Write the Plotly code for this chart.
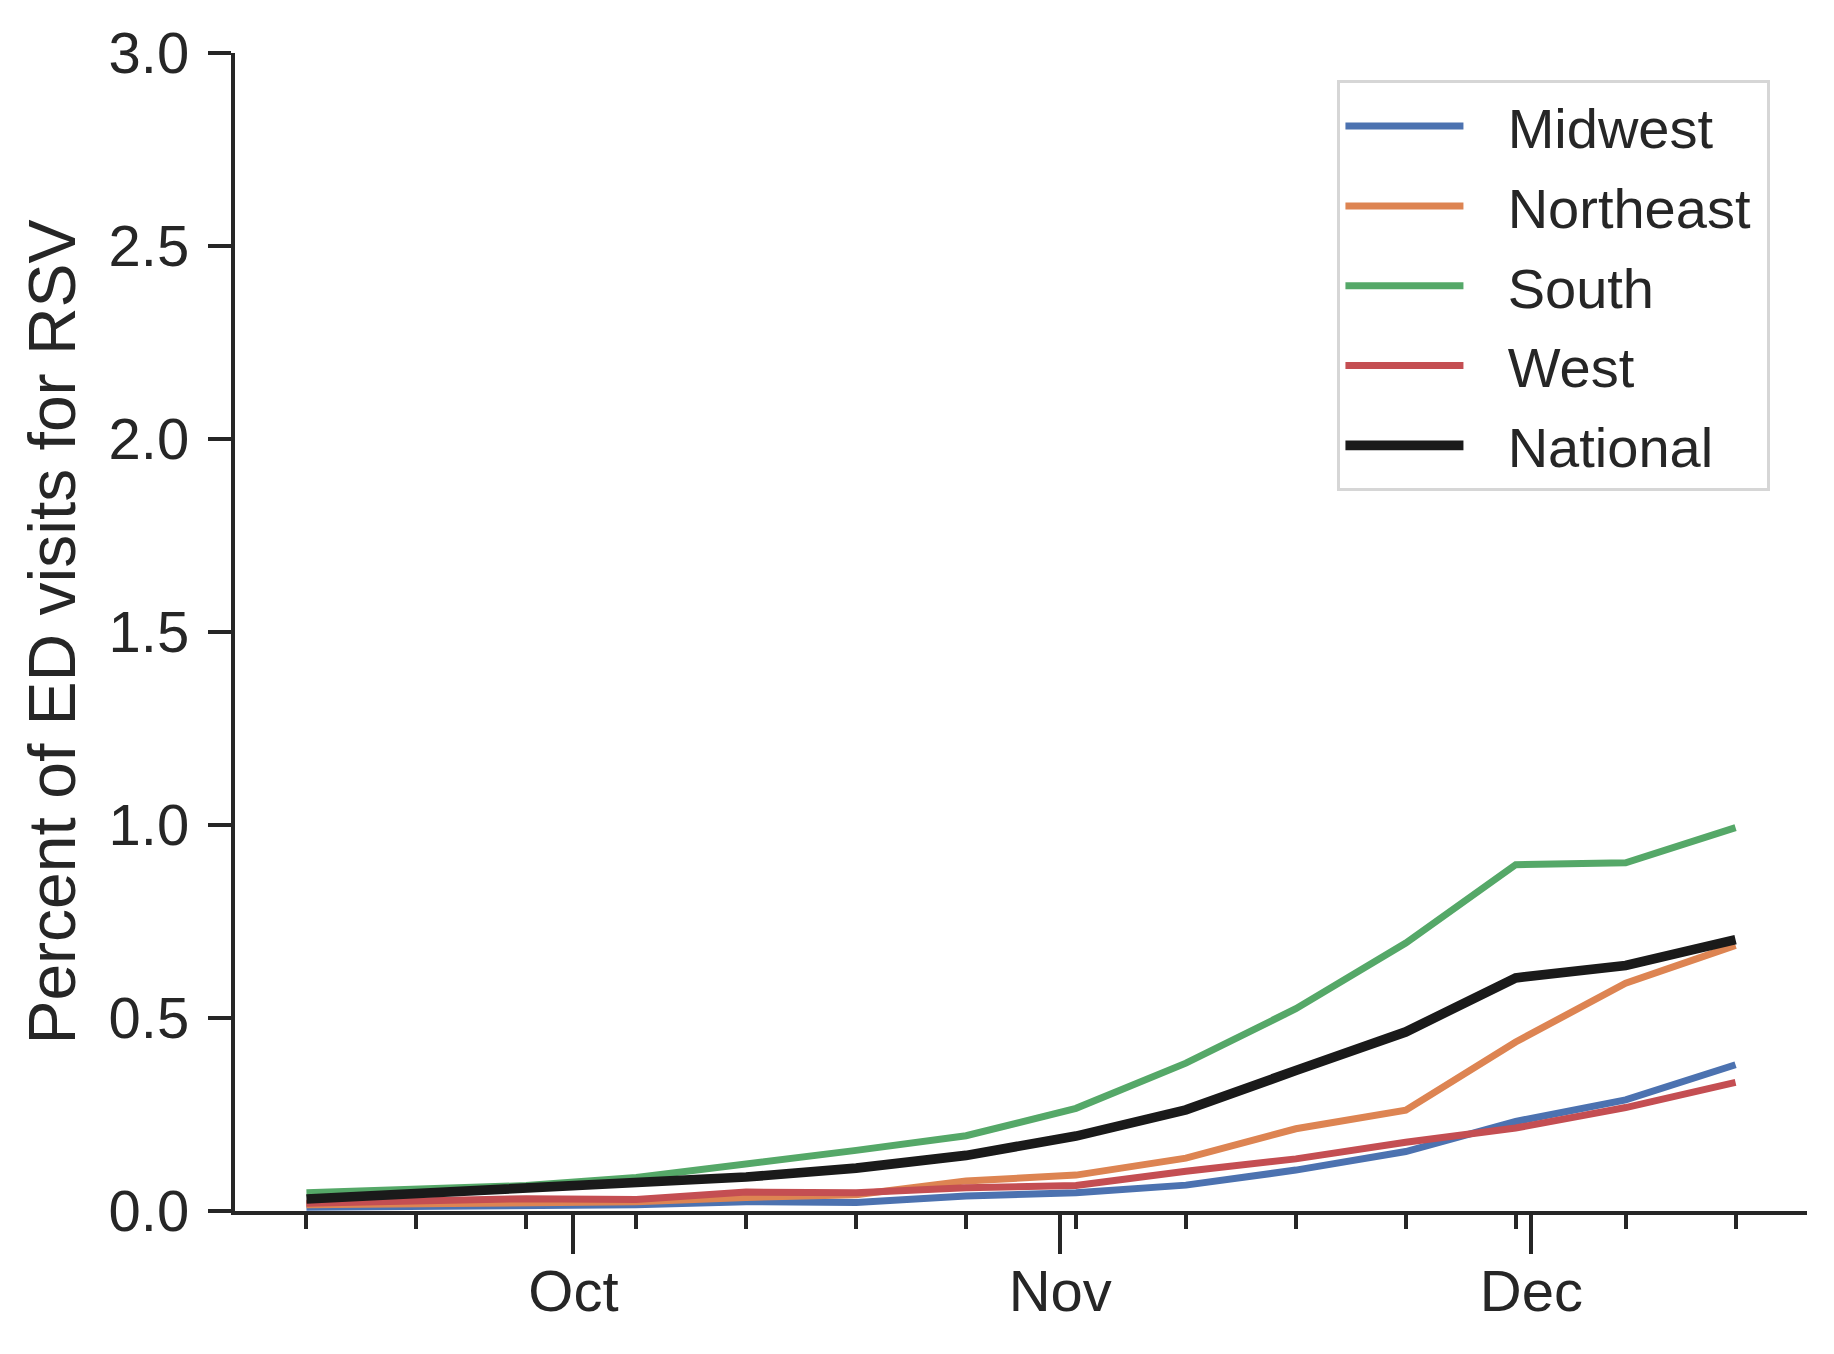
import plotly.graph_objects as go
import pandas as pd

# ---- data ----
week_dates = ["2024-09-14", "2024-09-21", "2024-09-28", "2024-10-05", "2024-10-12",
              "2024-10-19", "2024-10-26", "2024-11-02", "2024-11-09", "2024-11-16",
              "2024-11-23", "2024-11-30", "2024-12-07", "2024-12-14"]
midwest = [0.010, 0.011, 0.014, 0.016, 0.024, 0.022, 0.039, 0.047, 0.067, 0.106, 0.154, 0.232, 0.288, 0.379]
northeast = [0.016, 0.020, 0.024, 0.024, 0.035, 0.042, 0.078, 0.093, 0.137, 0.213, 0.261, 0.438, 0.590, 0.688]
south = [0.047, 0.058, 0.066, 0.087, 0.121, 0.157, 0.195, 0.266, 0.383, 0.524, 0.694, 0.897, 0.902, 0.993]
west = [0.020, 0.028, 0.032, 0.030, 0.049, 0.047, 0.060, 0.066, 0.103, 0.135, 0.178, 0.215, 0.268, 0.333]
national = [0.031, 0.045, 0.054, 0.072, 0.088, 0.111, 0.144, 0.194, 0.262, 0.364, 0.464, 0.604, 0.636, 0.703]

month_ticks = ["2024-10-01", "2024-11-01", "2024-12-01"]
month_labels = ["Oct", "Nov", "Dec"]
y_ticks = [0.0, 0.5, 1.0, 1.5, 2.0, 2.5, 3.0]

series_names = ["Midwest", "Northeast", "South", "West", "National"]
series_values = [midwest, northeast, south, west, national]
series_colors = ["#4C72B0", "#DD8452", "#55A868", "#C44E52", "#1a1a1a"]
series_widths = [7, 7, 7, 7, 9.7]

# ---- figure ----
dates = pd.to_datetime(week_dates)
span = dates.max() - dates.min()
x_range = [dates.min() - span * 0.05, dates.max() + span * 0.05]

TXT = "#262626"
FONT = "Liberation Sans, Arial, sans-serif"
GAP = "\u2002\u2009"  # space between legend line and label

fig = go.Figure()
for name, vals, col, w in zip(series_names, series_values, series_colors, series_widths):
    fig.add_trace(go.Scatter(x=dates, y=vals, mode="lines", name=GAP + name + "\u2009",
                             legendgroup=name,
                             line=dict(color=col, width=w)))

# page body has an 8px default margin, so the figure is 8px smaller
fig.update_layout(
    width=1826, height=1346,
    margin=dict(l=226.5, r=27, t=43.3, b=142.5, pad=0),
    paper_bgcolor="white", plot_bgcolor="white",
    font=dict(family=FONT, color=TXT, size=58),
    showlegend=True,
    legend=dict(
        x=0.7013, y=0.9765, xanchor="left", yanchor="top",
        bgcolor="white", bordercolor="#d6d6d6", borderwidth=3,
        font=dict(size=56, color=TXT, family=FONT),
        itemwidth=118, tracegroupgap=4,
    ),
)

fig.update_xaxes(
    type="date", range=x_range,
    showgrid=False, zeroline=False,
    showline=True, linecolor=TXT, linewidth=4.3,
    tickmode="array", tickvals=pd.to_datetime(month_ticks), ticktext=month_labels,
    ticks="outside", ticklen=39, tickwidth=4, tickcolor=TXT,
    ticklabelstandoff=-13,
    tickfont=dict(size=58, color=TXT, family=FONT),
    minor=dict(tickmode="array", tickvals=dates, ticks="outside", ticklen=14,
               tickwidth=3.5, tickcolor=TXT, showgrid=False),
)
fig.update_yaxes(
    range=[0, 3], showgrid=False, zeroline=False,
    showline=True, linecolor=TXT, linewidth=4.3,
    tickmode="array", tickvals=y_ticks, tickformat=".1f",
    ticks="outside", ticklen=23, tickwidth=4, tickcolor=TXT,
    ticklabelstandoff=7,
    tickfont=dict(size=58, color=TXT, family=FONT),
    title=dict(text="Percent of ED visits for RSV", font=dict(size=66, color=TXT, family=FONT),
               standoff=13),
)

fig.write_html("out.html")
